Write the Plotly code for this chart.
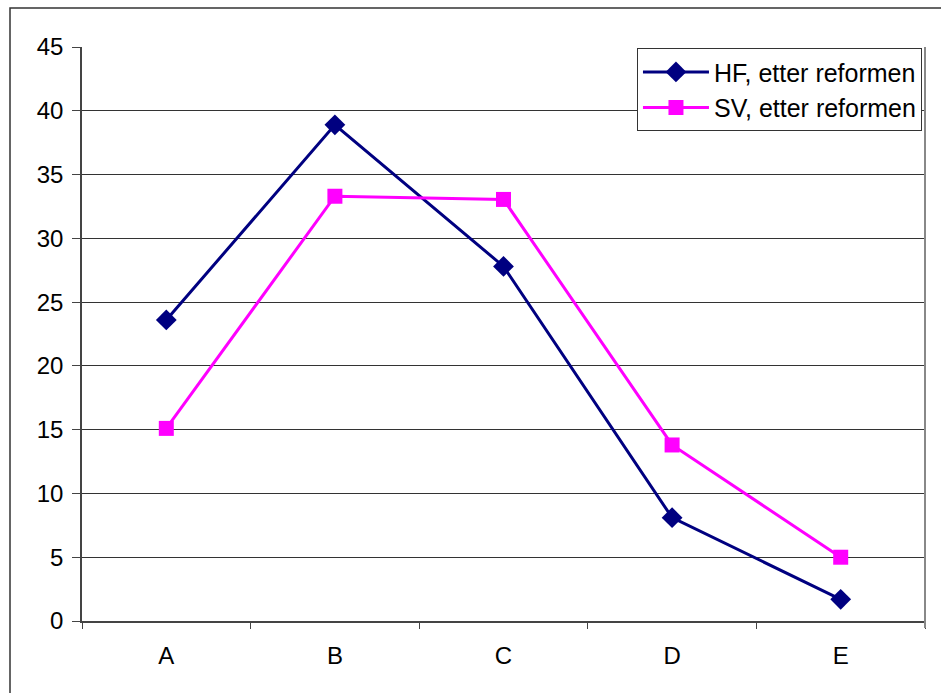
import plotly.graph_objects as go

categories = ["A", "B", "C", "D", "E"]
hf_values = [23.6, 38.9, 27.8, 8.1, 1.7]
sv_values = [15.1, 33.3, 33.05, 13.8, 5.0]
series_names = ["HF, etter reformen", "SV, etter reformen"]
y_ticks = [0, 5, 10, 15, 20, 25, 30, 35, 40, 45]

FONT = "Liberation Sans, Arial, sans-serif"

fig = go.Figure()
fig.add_trace(go.Scatter(
    x=categories, y=hf_values, name=series_names[0], mode="lines+markers",
    line=dict(color="#000080", width=3),
    marker=dict(symbol="diamond", size=16, color="#000080"),
))
fig.add_trace(go.Scatter(
    x=categories, y=sv_values, name=series_names[1], mode="lines+markers",
    line=dict(color="#FF00FF", width=3),
    marker=dict(symbol="square", size=15, color="#FF00FF"),
))

fig.update_layout(
    width=941, height=693,
    margin=dict(l=82, r=16, t=47, b=72),
    paper_bgcolor="white", plot_bgcolor="white",
    font=dict(family=FONT, size=24, color="black"),
    showlegend=True,
    legend=dict(
        x=0.9964, y=0.998, xanchor="right", yanchor="top",
        bgcolor="white", bordercolor="#333333", borderwidth=1,
        font=dict(family=FONT, size=25, color="black"),
        itemwidth=66, tracegroupgap=0,
    ),
    xaxis=dict(
        type="category", tickson="boundaries", ticks="outside", ticklen=6,
        tickcolor="#444444", showgrid=False, showline=True, linecolor="#444444",
        linewidth=1.5, range=[-0.5, 4.5], tickfont=dict(size=24),
        ticklabelstandoff=12,
    ),
    yaxis=dict(
        range=[0, 45], tickvals=y_ticks, ticks="outside", ticklen=8,
        tickcolor="#444444", showgrid=True, gridcolor="#333333", gridwidth=1,
        showline=True, linecolor="#444444", linewidth=1.5, zeroline=False,
        ticklabelstandoff=4, tickfont=dict(size=24),
    ),
)

# outer chart frame (cropped on right/bottom) and plot-area right edge
fig.add_shape(type="rect", xref="paper", yref="paper",
              x0=(10 - 82) / 843, x1=(960 - 82) / 843,
              y0=(621 - 720) / 574, y1=(621 - 8) / 574,
              line=dict(color="#333333", width=1.5), layer="below")
fig.add_shape(type="line", xref="paper", yref="paper",
              x0=1, x1=1, y0=(621 - 628) / 574, y1=1,
              line=dict(color="#888888", width=2))

fig.write_html("out.html")
